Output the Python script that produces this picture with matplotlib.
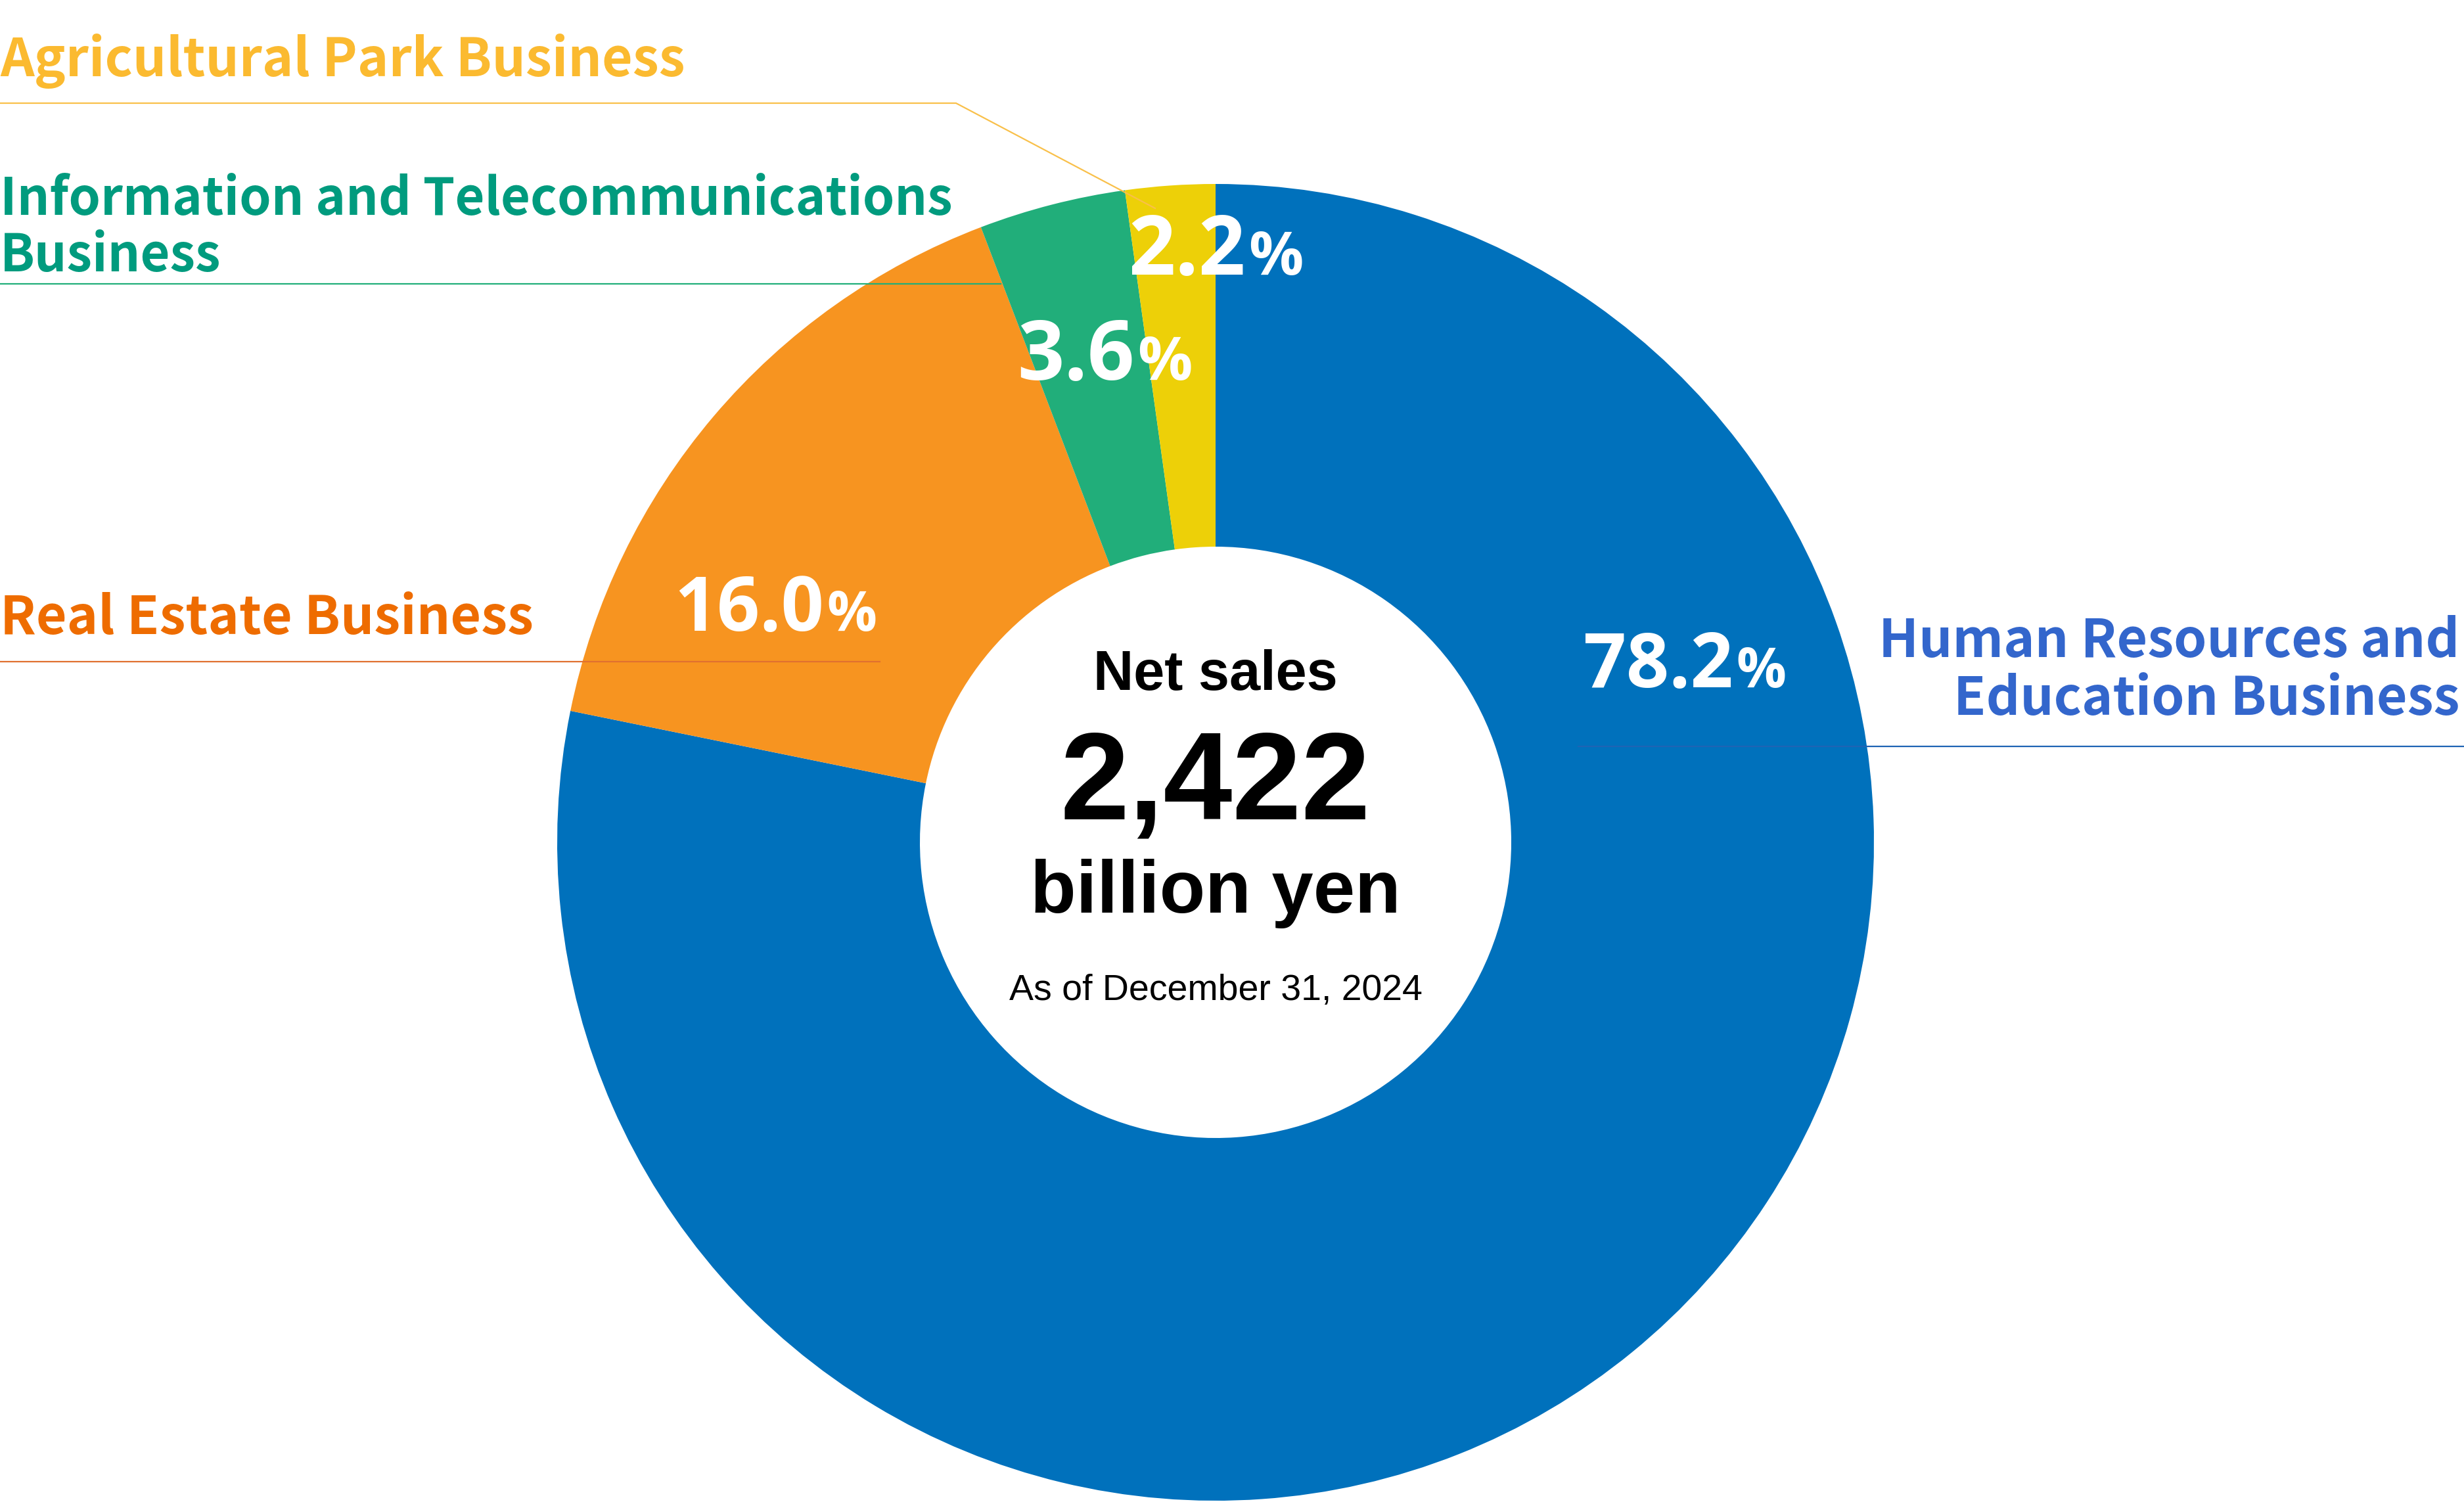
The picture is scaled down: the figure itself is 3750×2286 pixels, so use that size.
import matplotlib
matplotlib.use("Agg")
import matplotlib.pyplot as plt

# net sales share by segment (percent), clockwise from 12 o'clock
segments = ["Human Resources and\nEducation Business", "Real Estate Business",
            "Information and Telecommunications\nBusiness", "Agricultural Park Business"]
shares = [78.2, 16.0, 3.6, 2.2]
wedgeColors = ["#0071BC", "#F79420", "#21AE7A", "#EDD008"]
labelColors = ["#3366CC", "#EE6C00", "#009B7E", "#FBBA30"]
lineColors = ["#1E64B4", "#E07030", "#21AE7A", "#F9C04A"]

totalSales = "2,422"
totalUnit = "billion yen"
asOf = "As of December 31, 2024"

W, H = 3750, 2286
fig = plt.figure(figsize=(W / 100, H / 100), dpi=100)
ax = fig.add_axes([0, 0, 1, 1])

def Y(y):
    # pixel row (from top) -> data y
    return H - y

cx, cy = 1850, 1282
rOut, rIn = 1002, 450
ax.pie(shares, colors=wedgeColors, startangle=90, counterclock=False,
       radius=rOut, center=(cx, Y(cy)),
       wedgeprops=dict(width=rOut - rIn, edgecolor="none", linewidth=0))

ax.set_xlim(0, W)
ax.set_ylim(0, H)
ax.set_aspect("equal")
ax.axis("off")

labelFont = ["Noto Sans CJK JP", "DejaVu Sans"]
pctFont = ["Open Sans", "DejaVu Sans"]
centerFont = ["Liberation Sans", "DejaVu Sans"]
lfs = 58

# segment names with leader lines
ax.text(0, Y(116), segments[3], color=labelColors[3], fontsize=lfs, fontweight="bold",
        family=labelFont, ha="left", va="baseline")
ax.plot([0, 1455, 1758], [Y(157), Y(157), Y(317)], color=lineColors[3], lw=1.6, zorder=5)

line1, line2 = segments[2].split("\n")
ax.text(0, Y(327), line1, color=labelColors[2], fontsize=lfs - 2, fontweight="bold",
        family=labelFont, ha="left", va="baseline")
ax.text(0, Y(413), line2, color=labelColors[2], fontsize=lfs - 2, fontweight="bold",
        family=labelFont, ha="left", va="baseline")
ax.plot([0, 1523], [Y(432), Y(432)], color=lineColors[2], lw=1.6, zorder=5)

ax.text(0, Y(965), segments[1], color=labelColors[1], fontsize=lfs, fontweight="bold",
        family=labelFont, ha="left", va="baseline")
ax.plot([0, 1339], [Y(1007), Y(1007)], color=lineColors[1], lw=1.6, zorder=5)

line1, line2 = segments[0].split("\n")
ax.text(3743, Y(1000), line1, color=labelColors[0], fontsize=lfs, fontweight="bold",
        family=labelFont, ha="right", va="baseline")
ax.text(3743, Y(1088), line2, color=labelColors[0], fontsize=lfs, fontweight="bold",
        family=labelFont, ha="right", va="baseline")
ax.plot([2402, W], [Y(1136), Y(1136)], color=lineColors[0], lw=1.6, zorder=5)

# percentages: number + smaller % sign
pctPos = [(2638, 1046, 82), (1254, 960, 82), (1727, 578, 90), (1896, 418, 90)]
for val, (px, py, fs) in zip(shares, pctPos):
    ax.text(px, Y(py), f"{val:.1f}", color="white", fontsize=fs, fontweight="bold",
            family=pctFont, ha="right", va="baseline", zorder=6)
    ax.text(px + 4, Y(py), "%", color="white", fontsize=fs * 0.74, fontweight="bold",
            family=pctFont, ha="left", va="baseline", zorder=6)

# centre text
ax.text(cx, Y(1050), "Net sales", fontsize=61, fontweight="bold", family=centerFont,
        ha="center", va="baseline", color="black")
ax.text(cx, Y(1246), totalSales, fontsize=136, fontweight="bold", family=centerFont,
        ha="center", va="baseline", color="black")
ax.text(cx, Y(1389), totalUnit, fontsize=82, fontweight="bold", family=centerFont,
        ha="center", va="baseline", color="black")
ax.text(cx, Y(1522), asOf, fontsize=40, family=centerFont,
        ha="center", va="baseline", color="black")

fig.savefig("out.png", dpi=100, facecolor="white")
